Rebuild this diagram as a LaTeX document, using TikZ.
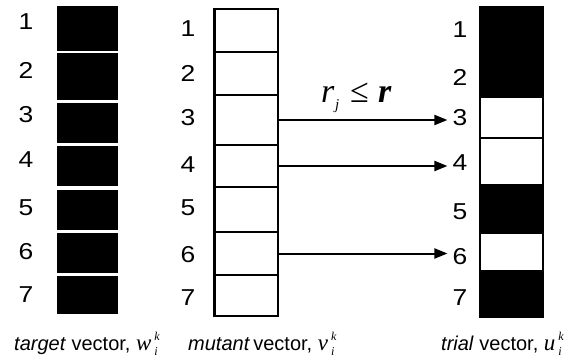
\documentclass[tikz,border=0pt]{standalone}
\usepackage{fontspec}
\setmainfont{Liberation Sans}
\newfontfamily\tnr{Liberation Serif}
\newfontfamily\idxfont[FakeStretch=1.15]{Liberation Sans}
\usetikzlibrary{arrows.meta}

% a vector symbol with stacked sub- and superscript, e.g. w_i^k
\newcommand{\vsym}[1]{{\tnr\itshape\fontsize{23}{23}\selectfont #1}\hspace{3pt}%
  \rlap{\raisebox{10pt}{\tnr\itshape\fontsize{12}{12}\selectfont k}}%
  \raisebox{-5pt}{\tnr\itshape\fontsize{12}{12}\selectfont i}}

\tikzset{
  tgtcell/.style={fill=black, inner sep=0pt, minimum width=61pt},
  mutcell/.style={draw=black, fill=white, line width=2.6pt, inner sep=0pt, minimum width=63.5pt},
  trialon/.style={draw=black, fill=black, line width=2.6pt, inner sep=0pt, minimum width=63pt},
  trialoff/.style={draw=black, fill=white, line width=2.6pt, inner sep=0pt, minimum width=63pt},
  idx/.style={inner sep=1pt, font=\idxfont\fontsize{23}{23}\selectfont},
  caption/.style={anchor=base west, inner sep=0pt, font=\fontsize{20}{20}\selectfont},
  pick/.style={line width=2pt, -{Triangle[length=13pt,width=10pt]}, shorten >=4pt}
}

\begin{document}
\begin{tikzpicture}[x=1pt, y=-1pt]
\useasboundingbox (0,0) rectangle (570,361);

% target vector: all components black
\foreach \n/\t/\b in {1/6/51, 2/53/100, 3/103/143, 4/146/186, 5/190/230, 6/233/273, 7/276/314}{
  \node[tgtcell, minimum height={\b-\t}] (w\n) at (87.5,{(\t+\b)/2}) {};
}
\foreach \n/\y in {1/22, 2/70, 3/115, 4/160, 5/208, 6/252, 7/295}{
  \node[idx] (lw\n) at (26,\y) {\n};
}

% mutant vector: all components white
\foreach \n/\t/\b in {1/9/52, 2/52/95, 3/95/145, 4/145/187, 5/187/232, 6/232/275, 7/275/316}{
  \node[mutcell, minimum height={\b-\t}] (v\n) at (246.3,{(\t+\b)/2}) {};
}
\foreach \n/\y in {1/29, 2/73, 3/118, 4/165, 5/208, 6/255, 7/298}{
  \node[idx] (lv\n) at (188,\y) {\n};
}

% trial vector: components 3, 4 and 6 come from the mutant
\foreach \n/\t/\b/\s in {1/7/52/trialon, 2/52/97/trialon, 3/97/138/trialoff, 4/138/185/trialoff,
                        5/185/233/trialon, 6/233/271/trialoff, 7/271/317/trialon}{
  \node[\s, minimum height={\b-\t}] (u\n) at (511.5,{(\t+\b)/2}) {};
}
\foreach \n/\y in {1/30, 2/77, 3/118, 4/163, 5/212, 6/257, 7/298}{
  \node[idx] (lu\n) at (460,\y) {\n};
}

% crossover arrows
\foreach \n in {3,4,6}{
  \draw[pick] (v\n.east) -- (v\n.east -| lu\n.west);
}
\node[anchor=base west, inner sep=0pt] (cond) at (321,102)
  {\tnr\fontsize{34}{34}\selectfont
   \makebox[14pt][l]{\itshape r}%
   \makebox[15pt][l]{\raisebox{-7pt}{\itshape\fontsize{15}{15}\selectfont j}}%
   \makebox[28pt][l]{\char"2264}%
   {\bfseries\itshape r}};

% captions
\node[caption] (capw) at (14,350) {\textit{target} vector, \vsym{w}};
\node[caption] (capv) at (188,350) {\textit{mutant}\,vector, \vsym{v}};
\node[caption] (capu) at (441,350) {\textit{trial} vector, \vsym{u}};
\end{tikzpicture}
\end{document}
